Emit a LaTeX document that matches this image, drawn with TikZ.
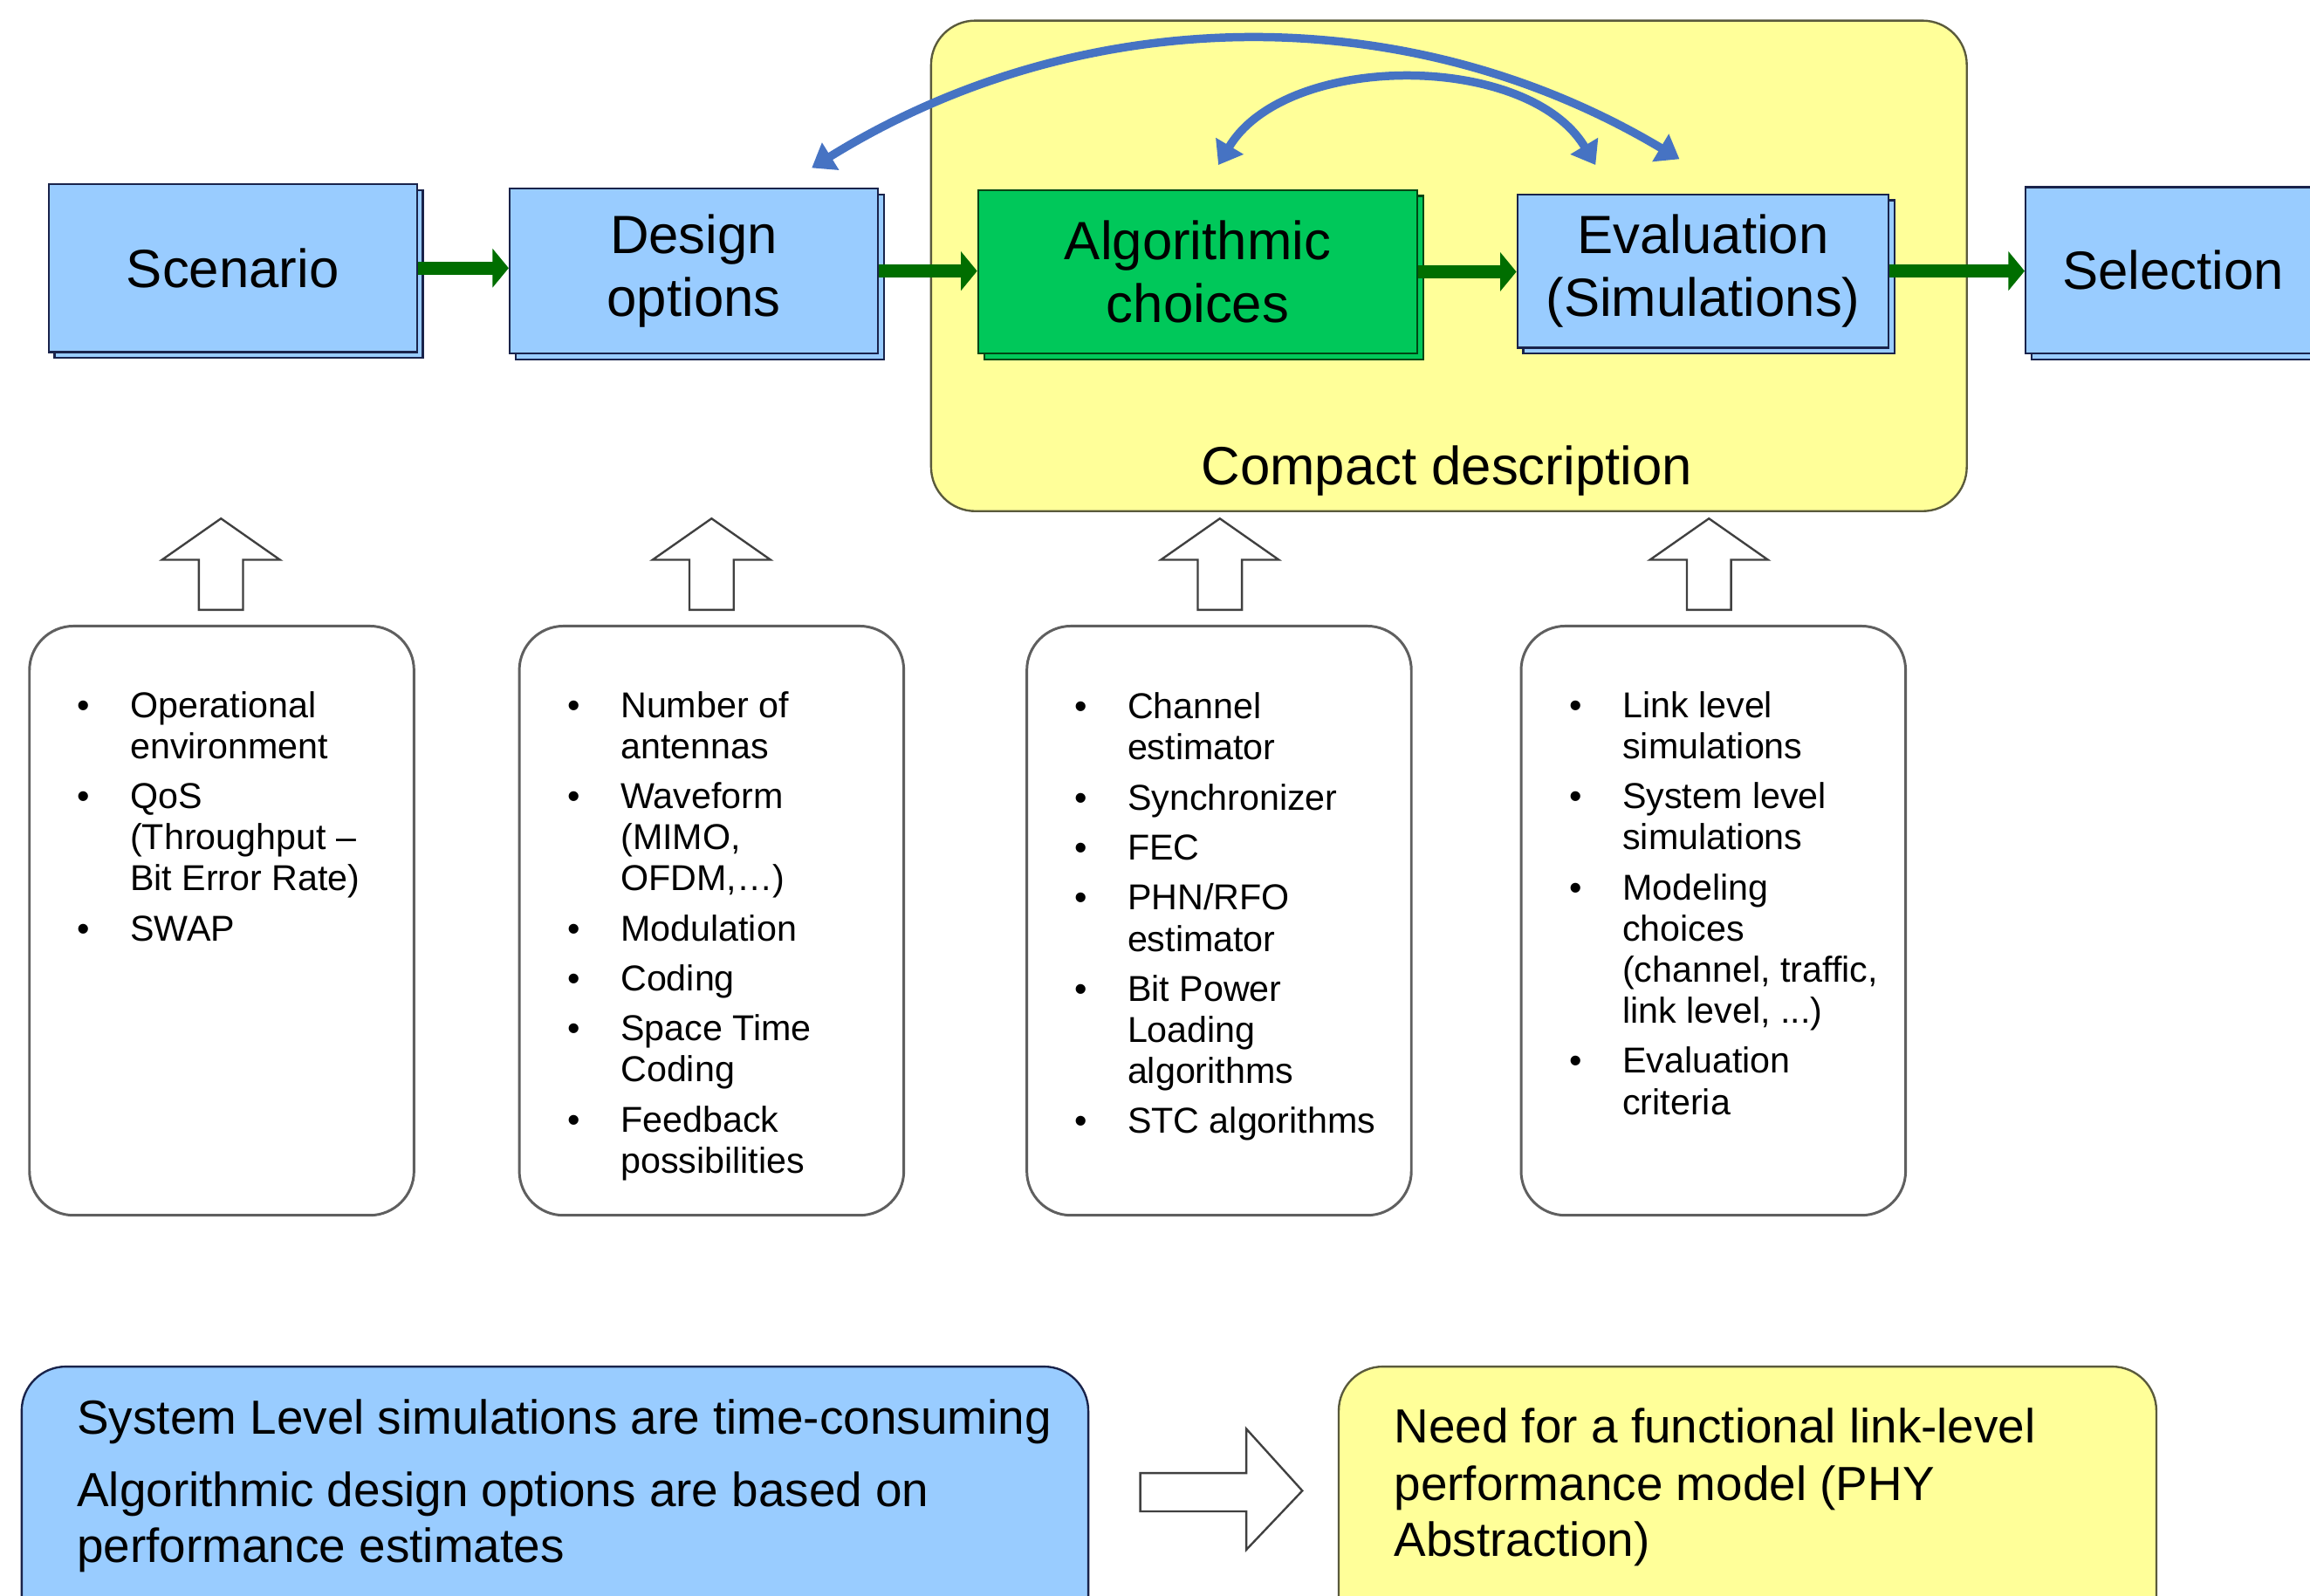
\documentclass[tikz,border=0pt]{standalone}
\usepackage{fontspec}
\setmainfont{Liberation Sans}
\usetikzlibrary{positioning}
\usetikzlibrary{arrows.meta}
\usetikzlibrary{shadows}

\definecolor{boxblue}{RGB}{153,204,255}
\definecolor{boxedge}{RGB}{25,35,75}
\definecolor{algogreen}{RGB}{0,200,90}
\definecolor{greenedge}{RGB}{0,70,20}
\definecolor{flowgreen}{RGB}{0,110,0}
\definecolor{loopblue}{RGB}{70,115,195}
\definecolor{paleyellow}{RGB}{255,255,153}
\definecolor{yellowedge}{RGB}{90,90,60}
\definecolor{listedge}{RGB}{95,95,95}

\newcommand{\bl}{\makebox[7.2mm][l]{\textbullet}}

\tikzset{
  stage/.style={draw=boxedge, fill=boxblue, line width=0.8pt, align=center, inner sep=0pt,
    font=\fontsize{20.8}{24}\selectfont, copy shadow={shadow xshift=0.8mm, shadow yshift=-0.8mm}},
  flowarrow/.style={flowgreen, line width=5pt, -{Triangle[length=2.2mm,width=5.2mm]}},
  feedback/.style={loopblue, line width=3.2pt, {Triangle[length=3mm,width=4.2mm]}-{Triangle[length=3mm,width=4.2mm]}},
  listbox/.style={draw=listedge, line width=1pt, rounded corners=6mm, fill=white,
    minimum width=52.2mm, minimum height=80mm},
  listtext/.style={anchor=base west, inner sep=0pt, font=\fontsize{13.9}{15.9}\selectfont},
  notetext/.style={anchor=base west, inner sep=0pt, font=\fontsize{18.5}{21.6}\selectfont},
  blockarrow/.style={draw=black!75, line width=0.8pt, fill=white}
}

\begin{document}
\begin{tikzpicture}[x=0.2mm, y=-0.2mm]
        \useasboundingbox (0,0) rectangle (1568,1083);
        \clip (0,0) rectangle (1568,1083);

        % Compact description frame
        \node[draw=yellowedge, fill=paleyellow, rounded corners=6mm, line width=0.8pt,
              minimum width=140.6mm, minimum height=66.6mm] (compact) at (983.5,180.5) {};
        \node[anchor=base, font=\fontsize{20.8}{24}\selectfont] (compactlbl) at (982,329) {Compact description};

        % The chain of stages
        \node[stage, minimum width=50mm, minimum height=22.8mm] (scen) at (158,182) {Scenario};
        \node[stage, minimum width=50mm, minimum height=22.4mm] (desopt) at (471,184) {Design\\options};
        \node[stage, fill=algogreen, draw=greenedge, minimum width=59.6mm, minimum height=22.2mm] (algo) at (813,184.5) {Algorithmic\\choices};
        \node[stage, minimum width=50.4mm, minimum height=20.8mm] (evalsim) at (1156,184) {Evaluation\\(Simulations)};
        \node[stage, minimum width=40mm, minimum height=22.6mm] (select) at (1475,183.5) {Selection};

        % Draw the flow
        \draw[flowarrow] (scen.east) -- (scen.east -| desopt.west);
        \draw[flowarrow] (desopt.east) -- (desopt.east -| algo.west);
        \draw[flowarrow] (algo.east) -- (algo.east -| evalsim.west);
        \draw[flowarrow] (evalsim.east) -- (evalsim.east -| select.west);

        % Feedback loops
        \coordinate (bigL) at (551,114);
        \coordinate (bigR) at (1140,108);
        \coordinate (smallL) at (827,112);
        \coordinate (smallR) at (1083,112);
        \draw[feedback] (bigL) .. controls (735,0) and (956,-2) .. (bigR);
        \draw[feedback] (smallL) .. controls (873,35) and (1037,35) .. (smallR);

        % Input boxes with their arrows
        \foreach \name/\cx in {envbox/150.5, optbox/483, algbox/827.5, evalbox/1163}
        \node[listbox] (\name) at (\cx,625) {};

        \foreach \cx in {150,483,828,1160}
        \draw[blockarrow] (\cx,352) -- ++(40,28) -- ++(-25,0) -- ++(0,34) -- ++(-30,0) -- ++(0,-34) -- ++(-25,0) -- cycle;

        \node[listtext] (envlist) at (52,487) {\begin{tabular}[t]{@{}l@{}l@{}}
          \bl & Operational\\ & environment\\[1.2mm]
          \bl & QoS\\ & (Throughput –\\ & Bit Error Rate)\\[1.2mm]
          \bl & SWAP
        \end{tabular}};
        \node[listtext] (optlist) at (385,487) {\begin{tabular}[t]{@{}l@{}l@{}}
          \bl & Number of\\ & antennas\\[1.2mm]
          \bl & Waveform\\ & (MIMO,\\ & OFDM,…)\\[1.2mm]
          \bl & Modulation\\[1.2mm]
          \bl & Coding\\[1.2mm]
          \bl & Space Time\\ & Coding\\[1.2mm]
          \bl & Feedback\\ & possibilities
        \end{tabular}};
        \node[listtext] (alglist) at (729,488) {\begin{tabular}[t]{@{}l@{}l@{}}
          \bl & Channel\\ & estimator\\[1.2mm]
          \bl & Synchronizer\\[1.2mm]
          \bl & FEC\\[1.2mm]
          \bl & PHN/RFO\\ & estimator\\[1.2mm]
          \bl & Bit Power\\ & Loading\\ & algorithms\\[1.2mm]
          \bl & STC algorithms
        \end{tabular}};
        \node[listtext] (evallist) at (1065,487) {\begin{tabular}[t]{@{}l@{}l@{}}
          \bl & Link level\\ & simulations\\[1.2mm]
          \bl & System level\\ & simulations\\[1.2mm]
          \bl & Modeling\\ & choices\\ & (channel, traffic,\\ & link level, ...)\\[1.2mm]
          \bl & Evaluation\\ & criteria
        \end{tabular}};

        % Conclusion at the bottom
        \node[draw=boxedge, fill=boxblue, rounded corners=6mm, line width=0.8pt, anchor=north west,
              minimum width=144.8mm, minimum height=40mm] (costnote) at (14,927) {};
        \node[draw=yellowedge, fill=paleyellow, rounded corners=6mm, line width=0.8pt, anchor=north west,
              minimum width=111mm, minimum height=40mm] (needfor) at (908,927) {};
        \draw[blockarrow] (774,1000) -- (846,1000) -- (846,970) -- (884,1012) -- (846,1052) -- (846,1026) -- (774,1026) -- cycle;

        \node[notetext] (costtext) at (52,973.5) {\begin{tabular}[t]{@{}l@{}}
          System Level simulations are time-consuming\\[2.2mm]
          Algorithmic design options are based on\\
          performance estimates
        \end{tabular}};
        \node[notetext] (needtext) at (946,979.5) {\begin{tabular}[t]{@{}l@{}}
          Need for a functional link-level\\[0.2mm]
          performance model (PHY\\
          Abstraction)
        \end{tabular}};
\end{tikzpicture}
\end{document}
